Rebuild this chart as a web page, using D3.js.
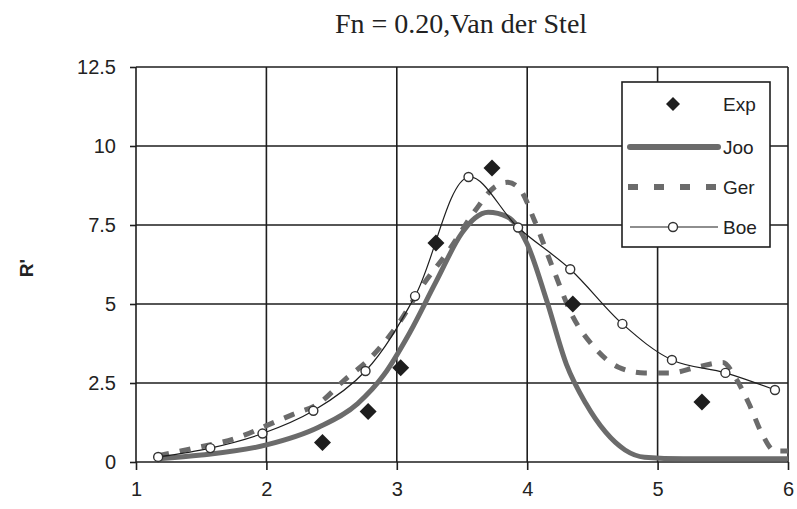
<!DOCTYPE html>
<html>
<head>
<meta charset="utf-8">
<script src="https://cdn.jsdelivr.net/npm/d3@7"></script>
<style>
  body { margin: 0; background: #fff; }
  text { font-family: "Liberation Sans", Arial, sans-serif; fill: #222; }
</style>
</head>
<body>
<svg id="chart" width="797" height="509"></svg>
<script>
'use strict';

// Tick values
const xTicks = [1, 2, 3, 4, 5, 6];
const yTicks = [0, 2.5, 5, 7.5, 10, 12.5];

// Experiment (diamonds)
const expX = [2.43, 2.78, 3.03, 3.30, 3.73, 4.35, 5.34];
const expY = [0.62, 1.6, 2.98, 6.93, 9.3, 5.0, 1.9];

// Joo (thick grey line)
const jooX = [1.17, 1.5, 2.0, 2.4, 2.7, 2.9, 3.1, 3.3, 3.5, 3.6, 3.7, 3.85, 4.0, 4.15, 4.3, 4.45, 4.6, 4.75, 4.9, 5.2, 6.0];
const jooY = [0.1, 0.22, 0.54, 1.1, 1.85, 2.75, 4.1, 5.7, 7.25, 7.72, 7.9, 7.75, 6.9, 5.1, 3.1, 1.85, 0.95, 0.38, 0.15, 0.1, 0.1];

// Ger (thick dashed line)
const gerX = [1.17, 1.4, 1.8, 2.0, 2.2, 2.4, 2.6, 2.8, 3.0, 3.2, 3.4, 3.6, 3.75, 3.85, 3.95, 4.05, 4.2, 4.35, 4.5, 4.7, 4.9, 5.1, 5.3, 5.5, 5.6, 5.7, 5.8, 5.9, 6.0];
const gerY = [0.2, 0.4, 0.8, 1.15, 1.5, 1.85, 2.6, 3.3, 4.3, 5.6, 6.7, 7.95, 8.7, 8.85, 8.6, 7.7, 6.1, 4.6, 3.7, 3.0, 2.82, 2.82, 3.0, 3.15, 2.65, 1.85, 0.9, 0.35, 0.35];

// Boe (thin line with circles)
const boeX = [1.17, 1.57, 1.97, 2.36, 2.76, 3.14, 3.55, 3.93, 4.33, 4.73, 5.11, 5.52, 5.90];
const boeY = [0.16, 0.44, 0.9, 1.62, 2.88, 5.25, 9.02, 7.42, 6.1, 4.37, 3.23, 2.82, 2.28];

const legendNames = ['Exp', 'Joo', 'Ger', 'Boe'];

const svg = d3.select('#chart');
const x = d3.scaleLinear().domain([1, 6]).range([136, 788]);
const y = d3.scaleLinear().domain([0, 12.5]).range([462, 67]);
const ink = '#1e1e1e', grey = '#6b6b6b';

function zip(xs, ys) { return xs.map((v, i) => [v, ys[i]]); }

// Title
svg.append('text')
  .attr('x', 461).attr('y', 33)
  .attr('text-anchor', 'middle')
  .style('font-family', '"Liberation Serif", "Times New Roman", serif')
  .style('font-size', '28px')
  .text('Fn = 0.20,Van der Stel');

// Grid
svg.append('g').selectAll('line').data(xTicks).join('line')
  .attr('x1', d => x(d)).attr('x2', d => x(d))
  .attr('y1', y(12.5)).attr('y2', y(0))
  .attr('stroke', ink).attr('stroke-width', 1.6);
svg.append('g').selectAll('line').data(yTicks).join('line')
  .attr('x1', x(1)).attr('x2', x(6))
  .attr('y1', d => y(d)).attr('y2', d => y(d))
  .attr('stroke', ink).attr('stroke-width', 1.6);

// Axes
const xAxis = svg.append('g')
  .attr('transform', 'translate(0,' + y(0) + ')')
  .call(d3.axisBottom(x).tickValues(xTicks).tickSize(8).tickPadding(12).tickFormat(d3.format('d')));
const yAxis = svg.append('g')
  .attr('transform', 'translate(' + x(1) + ',0)')
  .call(d3.axisLeft(y).tickValues(yTicks).tickSize(6).tickPadding(14).tickFormat(d => String(d)));
[xAxis, yAxis].forEach(g => {
  g.select('.domain').remove();
  g.selectAll('line').attr('stroke', ink).attr('stroke-width', 1.6);
  g.selectAll('text').style('font-size', '20px').attr('fill', '#222')
    .style('font-family', '"Liberation Sans", Arial, sans-serif');
});

// Y title
svg.append('text')
  .attr('transform', 'translate(33,268) rotate(-90)')
  .attr('text-anchor', 'middle')
  .style('font-size', '19px').style('font-weight', 'bold')
  .text("R'");

// Lines
const lineMono = d3.line().x(d => x(d[0])).y(d => y(d[1])).curve(d3.curveMonotoneX);
const lineSmooth = d3.line().x(d => x(d[0])).y(d => y(d[1])).curve(d3.curveCatmullRom.alpha(0.5));

svg.append('path')
  .attr('d', lineMono(zip(jooX, jooY)))
  .attr('fill', 'none').attr('stroke', grey).attr('stroke-width', 5)
  .attr('stroke-linejoin', 'round');

svg.append('path')
  .attr('d', lineMono(zip(gerX, gerY)))
  .attr('fill', 'none').attr('stroke', grey).attr('stroke-width', 5)
  .attr('stroke-dasharray', '11,11');

svg.append('path')
  .attr('d', lineSmooth(zip(boeX, boeY)))
  .attr('fill', 'none').attr('stroke', ink).attr('stroke-width', 1.2);

svg.append('g').selectAll('circle').data(zip(boeX, boeY)).join('circle')
  .attr('cx', d => x(d[0])).attr('cy', d => y(d[1])).attr('r', 4.5)
  .attr('fill', '#fff').attr('stroke', '#333').attr('stroke-width', 1.4);

function diamond(cx, cy, r) {
  return 'M' + cx + ',' + (cy - r) + 'L' + (cx + r) + ',' + cy +
    'L' + cx + ',' + (cy + r) + 'L' + (cx - r) + ',' + cy + 'Z';
}
svg.append('g').selectAll('path').data(zip(expX, expY)).join('path')
  .attr('d', d => diamond(x(d[0]), y(d[1]), 8.5))
  .attr('fill', ink);

// Legend
const lg = svg.append('g');
lg.append('rect')
  .attr('x', 622).attr('y', 82).attr('width', 148).attr('height', 165)
  .attr('fill', '#fff').attr('stroke', ink).attr('stroke-width', 1.6);
const rowY = [104, 147, 187, 227];
lg.selectAll('text').data(legendNames).join('text')
  .attr('x', 723).attr('y', (d, i) => rowY[i]).attr('dy', '0.35em')
  .style('font-size', '19px')
  .text(d => d);
lg.append('path').attr('d', diamond(673, rowY[0], 7)).attr('fill', ink);
lg.append('line').attr('x1', 630).attr('x2', 718).attr('y1', rowY[1]).attr('y2', rowY[1])
  .attr('stroke', grey).attr('stroke-width', 6).attr('stroke-linecap', 'round');
lg.append('line').attr('x1', 628).attr('x2', 718).attr('y1', rowY[2]).attr('y2', rowY[2])
  .attr('stroke', grey).attr('stroke-width', 6).attr('stroke-dasharray', '10,16');
lg.append('line').attr('x1', 630).attr('x2', 718).attr('y1', rowY[3]).attr('y2', rowY[3])
  .attr('stroke', ink).attr('stroke-width', 1.2);
lg.append('circle').attr('cx', 673).attr('cy', rowY[3]).attr('r', 4.5)
  .attr('fill', '#fff').attr('stroke', '#333').attr('stroke-width', 1.4);
</script>
</body>
</html>
